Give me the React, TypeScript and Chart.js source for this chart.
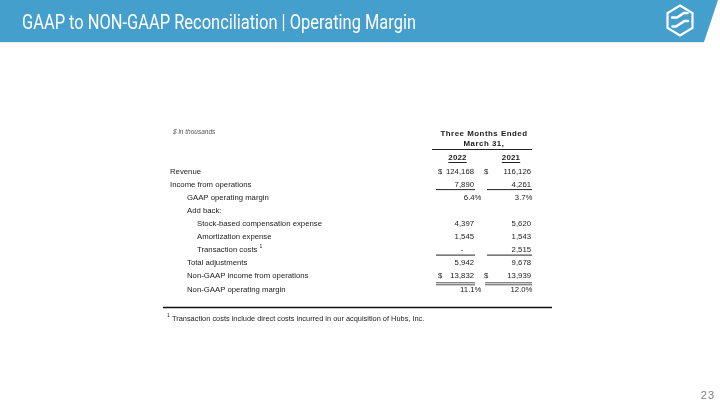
import React, { useEffect, useRef } from "react";
import { Chart, registerables } from "chart.js";

Chart.register(...registerables);

// ---- Data ----
const titleText = "GAAP to NON-GAAP Reconciliation | Operating Margin";
const unitsNote = "$ in thousands";
const periodHeader = ["Three Months Ended", "March 31,"];
const years = ["2022", "2021"];
const rowLabels = [
  "Revenue",
  "Income from operations",
  "GAAP operating margin",
  "Add back:",
  "Stock-based compensation expense",
  "Amortization expense",
  "Transaction costs",
  "Total adjustments",
  "Non-GAAP income from operations",
  "Non-GAAP operating margin",
];
const rowIndent = [0, 0, 1, 1, 2, 2, 2, 1, 1, 1];
const values2022: (number | null)[] = [124168, 7890, 6.4, null, 4397, 1545, 0, 5942, 13832, 11.1];
const values2021: (number | null)[] = [116126, 4261, 3.7, null, 5620, 1543, 2515, 9678, 13939, 12.0];
const percentRows = [2, 9];
const dollarRows = [0, 8];
const underlineRows = [1, 6];
const doubleUnderlineRows = [8];
const footnoteRows = [6];
const footnoteText = "Transaction costs include direct costs incurred in our acquisition of Hubs, Inc.";
const pageNumber = "23";

const FONT = "'Liberation Sans', Arial, sans-serif";
const TEXT = "#1b1b1b";

function fmt(v: number | null, row: number): string {
  if (v === null) return "";
  if (percentRows.includes(row)) return v.toFixed(1) + "%";
  if (v === 0) return "-";
  return v.toLocaleString("en-US");
}

const tablePlugin = {
  id: "tablePlugin",
  afterDraw(chart: any) {
    const ctx: CanvasRenderingContext2D = chart.ctx;
    const xs = chart.scales.x;
    const ys = chart.scales.y;
    ctx.save();

    // Banner
    ctx.fillStyle = "#dfeaf1";
    ctx.fillRect(0, 41, 704, 2);
    ctx.fillStyle = "#459fcc";
    ctx.beginPath();
    ctx.moveTo(0, 0);
    ctx.lineTo(718, 0);
    ctx.lineTo(704, 42);
    ctx.lineTo(0, 42);
    ctx.closePath();
    ctx.fill();

    // Title
    ctx.fillStyle = "#ffffff";
    ctx.font = `21px 'Liberation Sans Narrow', Roboto, sans-serif`;
    ctx.textBaseline = "alphabetic";
    ctx.textAlign = "left";
    ctx.fillText(titleText, 22, 29, 394);

    // Logo
    ctx.strokeStyle = "#ffffff";
    ctx.lineWidth = 2.2;
    ctx.lineJoin = "miter";
    ctx.beginPath();
    const cx = 680, cy = 20.5, hw = 12.5, hh = 15;
    ctx.moveTo(cx, cy - hh);
    ctx.lineTo(cx + hw, cy - hh / 2);
    ctx.lineTo(cx + hw, cy + hh / 2);
    ctx.lineTo(cx, cy + hh);
    ctx.lineTo(cx - hw, cy + hh / 2);
    ctx.lineTo(cx - hw, cy - hh / 2);
    ctx.closePath();
    ctx.stroke();
    ctx.lineWidth = 2.6;
    ctx.lineCap = "round";
    ctx.beginPath();
    ctx.moveTo(672, 17.5);
    ctx.lineTo(677, 17.5);
    ctx.lineTo(684, 13);
    ctx.lineTo(687.5, 13);
    ctx.moveTo(672.5, 26.5);
    ctx.lineTo(676, 26.5);
    ctx.lineTo(684.5, 21);
    ctx.lineTo(688, 21);
    ctx.stroke();
    ctx.lineCap = "butt";

    // Units note
    ctx.fillStyle = "#555555";
    ctx.font = `italic 6.5px ${FONT}`;
    ctx.textBaseline = "middle";
    ctx.fillText(unitsNote, 173, 132.5);

    // Column header
    const c0 = xs.getPixelForValue(0);
    const c1 = xs.getPixelForValue(1);
    ctx.fillStyle = TEXT;
    ctx.textAlign = "center";
    ctx.font = `bold 7.9px ${FONT}`;
    (ctx as any).letterSpacing = "0.5px";
    ctx.fillText(periodHeader[0], 484, 133.5);
    ctx.fillText(periodHeader[1], 484, 144);
    (ctx as any).letterSpacing = "0.2px";
    ctx.strokeStyle = "#222";
    ctx.lineWidth = 1;
    ctx.beginPath();
    ctx.moveTo(432, 149.5);
    ctx.lineTo(532, 149.5);
    ctx.stroke();
    const yearY = ys.getPixelForValue(-1.03);
    const yearCenters = [c0 - 16.5, c1 - 20];
    years.forEach((yr, i) => {
      ctx.fillText(yr, yearCenters[i], yearY);
      const w = ctx.measureText(yr).width;
      ctx.beginPath();
      ctx.moveTo(yearCenters[i] - w / 2, yearY + 4.5);
      ctx.lineTo(yearCenters[i] + w / 2, yearY + 4.5);
      ctx.stroke();
    });
    (ctx as any).letterSpacing = "0px";

    // Row labels
    const indentX = [170, 187, 197];
    ctx.textAlign = "left";
    ctx.font = `7.75px ${FONT}`;
    rowLabels.forEach((lab, i) => {
      const y = ys.getPixelForValue(i);
      const x = indentX[rowIndent[i]];
      ctx.fillText(lab, x, y);
      if (footnoteRows.includes(i)) {
        const w = ctx.measureText(lab).width;
        ctx.font = `5px ${FONT}`;
        ctx.fillText("1", x + w + 2, y - 3);
        ctx.font = `7.75px ${FONT}`;
      }
    });

    // Values via dataset elements
    const dollarOffset = [-36, -47];
    const pctOffset = [7.5, 1.5];
    const ulLeft = [-38, -44];
    const dblLeft = [-38, -46];
    chart.data.datasets.forEach((ds: any, di: number) => {
      const meta = chart.getDatasetMeta(di);
      meta.data.forEach((pt: any, i: number) => {
        const v = ds.values[i];
        const x = pt.x;
        const y = pt.y;
        ctx.fillStyle = TEXT;
        ctx.font = `7.75px ${FONT}`;
        const txt = fmt(v, i);
        if (txt) {
          if (v === 0) {
            ctx.textAlign = "center";
            ctx.fillText(txt, x - 12, y);
          } else {
            ctx.textAlign = "right";
            ctx.fillText(txt, percentRows.includes(i) ? x + pctOffset[di] : x, y);
          }
        }
        if (dollarRows.includes(i)) {
          ctx.textAlign = "left";
          ctx.fillText("$", x + dollarOffset[di], y);
        }
        ctx.strokeStyle = "#222";
        ctx.lineWidth = 1;
        if (underlineRows.includes(i)) {
          ctx.beginPath();
          ctx.moveTo(x + ulLeft[di], y + 5);
          ctx.lineTo(x + 1, y + 5);
          ctx.stroke();
        }
        if (doubleUnderlineRows.includes(i)) {
          ctx.strokeStyle = "#555";
          ctx.beginPath();
          ctx.moveTo(x + dblLeft[di], y + 6.5);
          ctx.lineTo(x + 1, y + 6.5);
          ctx.moveTo(x + dblLeft[di], y + 8.5);
          ctx.lineTo(x + 1, y + 8.5);
          ctx.stroke();
        }
      });
    });

    // Footnote rule and text
    ctx.strokeStyle = "#111";
    ctx.lineWidth = 1.6;
    ctx.beginPath();
    ctx.moveTo(163, 307.5);
    ctx.lineTo(552, 307.5);
    ctx.stroke();
    ctx.fillStyle = TEXT;
    ctx.textAlign = "left";
    ctx.font = `5px ${FONT}`;
    ctx.fillText("1", 167, 315.5);
    ctx.font = `7.4px ${FONT}`;
    ctx.fillText(footnoteText, 172, 319);

    // Page number
    ctx.fillStyle = "#7f7f7f";
    ctx.font = `11px ${FONT}`;
    (ctx as any).letterSpacing = "1px";
    ctx.textAlign = "right";
    ctx.textBaseline = "alphabetic";
    ctx.fillText(pageNumber, 715, 399);
    (ctx as any).letterSpacing = "0px";

    ctx.restore();
  },
};

export default function App() {
  const ref = useRef<HTMLCanvasElement>(null);
  useEffect(() => {
    document.body.style.margin = "0";
    const canvas = ref.current!;
    const chart = new Chart(canvas, {
      type: "scatter",
      data: {
        datasets: [
          {
            label: years[0],
            data: rowLabels.map((_, i) => ({ x: 0, y: i })),
            pointRadius: 0,
            values: values2022,
          } as any,
          {
            label: years[1],
            data: rowLabels.map((_, i) => ({ x: 1, y: i })),
            pointRadius: 0,
            values: values2021,
          } as any,
        ],
      },
      options: {
        responsive: false,
        animation: false,
        layout: { padding: 0 },
        plugins: { legend: { display: false }, tooltip: { enabled: false } },
        scales: {
          x: { type: "linear", min: -474 / 57, max: -474 / 57 + 720 / 57, display: false },
          y: { type: "linear", min: -171.5 / 13.1, max: -171.5 / 13.1 + 405 / 13.1, reverse: true, display: false },
        },
      },
      plugins: [tablePlugin],
    });
    return () => chart.destroy();
  }, []);
  return (
    <div style={{ position: "fixed", left: 0, top: 0, width: 720, height: 405, background: "#fff" }}>
      <canvas ref={ref} width={720} height={405} style={{ width: 720, height: 405 }} />
    </div>
  );
}
